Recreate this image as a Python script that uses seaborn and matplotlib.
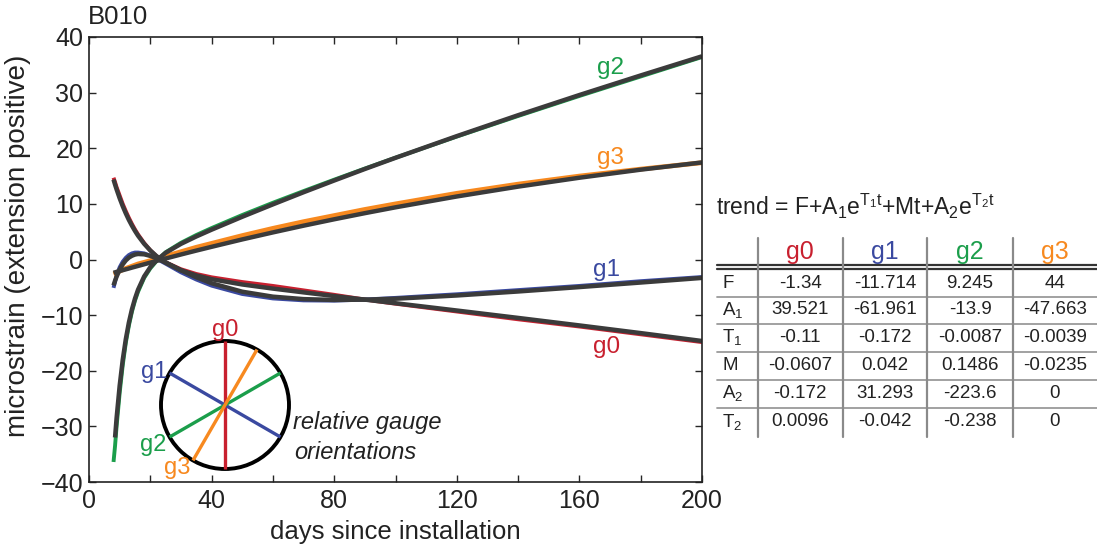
import numpy as np
import pandas as pd
import matplotlib
matplotlib.use("Agg")
import matplotlib.pyplot as plt
from matplotlib.lines import Line2D
from matplotlib.patches import Circle
import seaborn as sns

# ---------------- data ----------------
days = [8, 8.5, 9, 10, 11, 12, 13, 14, 15, 16, 18, 20, 22, 25, 30, 35, 40,
        50, 60, 70, 80, 90, 100, 120, 140, 160, 180, 200]

g0_obs = [14.7, 13.9, 13.0, 11.5, 10.0, 8.7, 7.5, 6.4, 5.4, 4.5, 2.95, 1.65, 0.6, -0.5,
          -1.75, -2.6, -3.2, -4.05, -4.75, -5.55, -6.35, -7.2, -7.95, -9.35, -10.75, -12.05, -13.45, -14.85]
g1_obs = [-5.1, -4.0, -2.9, -1.4, -0.4, 0.3, 0.8, 1.1, 1.25, 1.25, 1.1, 0.7, 0.15, -0.75,
          -2.3, -3.6, -4.7, -6.2, -7.0, -7.35, -7.4, -7.2, -6.9, -6.25, -5.5, -4.75, -3.9, -3.15]
g2_obs = [-36.4, -33.5, -30.0, -24.0, -19.0, -15.0, -11.9, -9.4, -7.4, -5.8, -3.3, -1.6, -0.3, 1.3,
          3.0, 4.4, 5.65, 8.0, 10.2, 12.3, 14.35, 16.35, 18.3, 22.1, 25.8, 29.4, 32.9, 36.4]
g3_obs = [-2.6, -2.5, -2.35, -2.1, -1.85, -1.6, -1.4, -1.2, -1.0, -0.8, -0.5, -0.2, 0.1, 0.6,
          1.4, 2.2, 2.9, 4.3, 5.6, 6.8, 7.9, 9.0, 10.0, 11.9, 13.55, 15.0, 16.25, 17.4]

g0_trend = [14.38, 13.47, 12.61, 11.02, 9.59, 8.30, 7.13, 6.09, 5.14, 4.28, 2.82, 1.62, 0.62, -0.55,
            -1.93, -2.86, -3.54, -4.49, -5.23, -5.91, -6.57, -7.21, -7.86, -9.17, -10.50, -11.85, -13.23, -14.65]
g1_trend = [-4.67, -3.82, -3.08, -1.83, -0.88, -0.17, 0.34, 0.67, 0.89, 0.99, 0.93, 0.65, 0.22, -0.55,
            -1.93, -3.20, -4.27, -5.79, -6.68, -7.12, -7.27, -7.22, -7.05, -6.47, -5.75, -4.96, -4.14, -3.31]
g2_trend = [np.nan, -32.0, -28.5, -22.71, -18.05, -14.35, -11.36, -8.97, -7.03, -5.43, -3.04, -1.38, -0.16, 1.20,
            2.81, 4.14, 5.36, 7.68, 9.91, 12.09, 14.20, 16.27, 18.28, 22.18, 25.94, 29.57, 33.09, 36.53]
g3_trend = [-2.39, -2.31, -2.23, -2.07, -1.92, -1.77, -1.62, -1.46, -1.31, -1.16, -0.86, -0.56, -0.26, 0.18,
            0.90, 1.60, 2.28, 3.61, 4.87, 6.08, 7.23, 8.33, 9.38, 11.33, 13.10, 14.70, 16.15, 17.45]

gauges = ["g0", "g1", "g2", "g3"]
gauge_colors = ["#c8202f", "#3a49a0", "#1b9e4b", "#f7891f"]
gauge_angles = [90, 150, 30, 60]          # relative gauge orientations (degrees)

# table of fit parameters
param_rows = ["F", "A$_1$", "T$_1$", "M", "A$_2$", "T$_2$"]
param_g0 = ["-1.34", "39.521", "-0.11", "-0.0607", "-0.172", "0.0096"]
param_g1 = ["-11.714", "-61.961", "-0.172", "0.042", "31.293", "-0.042"]
param_g2 = ["9.245", "-13.9", "-0.0087", "0.1486", "-223.6", "-0.238"]
param_g3 = ["44", "-47.663", "-0.0039", "-0.0235", "0", "0"]

x_ticks = [0, 40, 80, 120, 160, 200]
y_ticks = [-40, -30, -20, -10, 0, 10, 20, 30, 40]

# ---------------- style ----------------
sns.set_style("ticks")
plt.rcParams["font.family"] = ["Liberation Sans", "DejaVu Sans"]
plt.rcParams["mathtext.fontset"] = "custom"
plt.rcParams["mathtext.rm"] = "Liberation Sans"
plt.rcParams["mathtext.it"] = "Liberation Sans:italic"
plt.rcParams["mathtext.bf"] = "Liberation Sans:bold"

TXT = "#222222"
W, H = 1097, 550
fig = plt.figure(figsize=(W / 100, H / 100), dpi=100)
ax = fig.add_axes([89 / W, 1 - 482 / H, (702 - 89) / W, (482 - 37) / H])

obs_list = [g0_obs, g1_obs, g2_obs, g3_obs]
trend_list = [g0_trend, g1_trend, g2_trend, g3_trend]

for name, col, obs in zip(gauges, gauge_colors, obs_list):
    df = pd.DataFrame({"days": days, "val": obs}).dropna()
    sns.lineplot(data=df, x="days", y="val", color=col, lw=2.8 if name != "g3" else 3.4,
                 ax=ax, sort=False, estimator=None, solid_capstyle="butt")
for name, tr in zip(gauges, trend_list):
    df = pd.DataFrame({"days": days, "val": tr}).dropna()
    sns.lineplot(data=df, x="days", y="val", color="#3b3b3b", lw=3.2,
                 ax=ax, sort=False, estimator=None, solid_capstyle="butt")

ax.set_xlim(0, 200)
ax.set_ylim(-40, 40)
ax.set_xticks(x_ticks)
ax.set_xticks(np.arange(20, 200, 40), minor=True)
ax.set_yticks(y_ticks)
ax.tick_params(which="both", direction="in", top=True, right=True, length=5,
               width=1, labelsize=18, labelcolor=TXT)
ax.tick_params(axis="x", which="both", pad=5)
ax.tick_params(axis="y", which="both", pad=4)
for s in ax.spines.values():
    s.set_linewidth(1.2)
    s.set_color(TXT)
ax.set_xlabel("days since installation", fontsize=18.5, labelpad=5, color=TXT)
ax.set_ylabel("microstrain (extension positive)", fontsize=20, color=TXT)
ax.yaxis.set_label_coords(-0.095, 0.53)

# gauge labels near the curve ends
label_pos = {"g0": (169, -15.7), "g1": (169, -1.9), "g2": (170, 34.4), "g3": (170, 18.3)}
for name, col in zip(gauges, gauge_colors):
    x, y = label_pos[name]
    ax.text(x, y, name, color=col, fontsize=17.5, ha="center", va="center")

fig.text(88 / W, 1 - 17 / H, "B010", fontsize=18.5, ha="left", va="center", color=TXT)

# ---------------- inset: gauge orientations ----------------
cx, cy, r = 225, 405, 64
half = r * 1.05
iax = fig.add_axes([(cx - half) / W, 1 - (cy + half) / H, 2 * half / W, 2 * half / H])
iax.set_xlim(-1.05, 1.05)
iax.set_ylim(-1.05, 1.05)
iax.axis("off")
for name, col, ang in zip(gauges, gauge_colors, gauge_angles):
    a = np.deg2rad(ang)
    iax.plot([-np.cos(a), np.cos(a)], [-np.sin(a), np.sin(a)], color=col, lw=2.4,
             solid_capstyle="butt")
iax.add_patch(Circle((0, 0), 1.0, fill=False, ec="black", lw=2.8))
inset_lbl = {"g0": (0.0, 1.17), "g1": (-1.1, 0.52), "g2": (-1.12, -0.62), "g3": (-0.74, -0.99)}
for name, col in zip(gauges, gauge_colors):
    x, y = inset_lbl[name]
    iax.text(x, y, name, color=col, fontsize=17, ha="center", va="center", clip_on=False)
iax.text(1.07, -0.28, "relative gauge", fontsize=17, style="italic", ha="left",
         va="center", color=TXT, clip_on=False)
iax.text(1.08, -0.74, "orientations", fontsize=17, style="italic", ha="left",
         va="center", color=TXT, clip_on=False)

# ---------------- parameter table ----------------
def fx(px):
    return px / W

def fy(py):
    return 1 - py / H

fig.text(fx(716), fy(206),
         r"trend = F+A$_1$e$^{\mathrm{T}_1\mathrm{t}}$+Mt+A$_2$e$^{\mathrm{T}_2\mathrm{t}}$",
         fontsize=16.5, ha="left", va="center", color=TXT)

col_centers = [800, 885, 970, 1055]
row_y = [283, 310, 337, 365, 393, 422]
header_y = 252
for name, col, xc in zip(gauges, gauge_colors, col_centers):
    fig.text(fx(xc), fy(header_y), name, color=col, fontsize=18, ha="center", va="center")

cols = [param_g0, param_g1, param_g2, param_g3]
for i, (lab, yy) in enumerate(zip(param_rows, row_y)):
    fig.text(fx(722), fy(yy), lab, fontsize=13.5, ha="left", va="center", color=TXT)
    for vals, xc in zip(cols, col_centers):
        fig.text(fx(xc), fy(yy), vals[i], fontsize=13.5, ha="center", va="center",
                 color=TXT)

# header double line
for yy in [265.5, 269.0]:
    fig.add_artist(Line2D([fx(717), fx(1097)], [fy(yy), fy(yy)], color="#333333", lw=1.6))
# row separators
for yy in [297, 324, 352, 380, 408]:
    fig.add_artist(Line2D([fx(717), fx(1097)], [fy(yy), fy(yy)], color="#9a9a9a", lw=1.3))
# vertical separators
for xx in [758, 843, 927, 1013]:
    fig.add_artist(Line2D([fx(xx), fx(xx)], [fy(238), fy(437)], color="#8a8a8a", lw=1.6))

fig.savefig("out.png", dpi=100)
